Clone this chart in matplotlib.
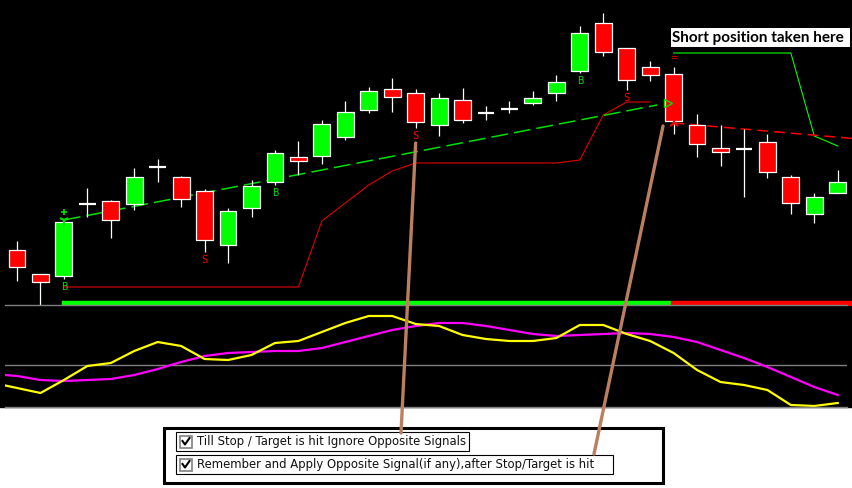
import numpy as np
import matplotlib
matplotlib.use("Agg")
import matplotlib.pyplot as plt
from matplotlib.patches import Rectangle, ConnectionPatch

# Bougies (indice 0..35), niveaux de prix
opens = [55, 31, 29, 101, 104, 101, 138, 128, 114, 60, 97, 123, 148, 149, 168, 195, 216, 212,
         180, 205, 192, 196, 202, 212, 234, 282, 257, 238, 231, 180, 157, 156, 163, 128, 91, 112]
highs = [64, 31, 84, 117, 105, 137, 146, 129, 116, 97, 125, 155, 164, 185, 204, 218, 227, 216,
         212, 217, 199, 204, 214, 230, 279, 292, 257, 244, 238, 191, 180, 176, 171, 130, 112, 135]
lows = [24, 0, 26, 88, 67, 95, 123, 98, 53, 42, 88, 120, 130, 141, 165, 192, 193, 177,
        169, 182, 185, 192, 200, 204, 232, 249, 215, 224, 171, 148, 139, 108, 127, 91, 82, 112]
closes = [38, 23, 83, 101, 85, 128, 138, 106, 65, 94, 119, 152, 144, 181, 193, 214, 208, 183,
          207, 185, 192, 196, 207, 223, 272, 253, 225, 230, 184, 161, 153, 156, 133, 102, 108, 123]

# signaux
buy_idx = [2, 11, 24]
sell_idx = [8, 17, 26]

# stop suiveur de la position longue (indices 2..27)
long_stop_idx = list(range(2, 28))
long_stop = [18] * 11 + [84, 102, 120, 134, 142, 142, 142, 142, 142, 142, 142, 145, 190, 203, 203]
# stop de la position courte (indices 28..35)
short_stop_idx = list(range(28, 36))
short_stop = [252, 252, 252, 252, 252, 252, 169, 159]

# lignes de tendance
long_trend_x = [2, 27.3]
long_trend_y = [85, 200]
short_trend_x = [28, 35.65]
short_trend_y = [182, 166.5]

# barre d'état de la position
pos_start = [2, 28]
pos_end = [28, 36]
pos_colors = ['#00ff00', '#ff0000']

# oscillateur (indices -1..35)
osc_idx = list(range(-1, 36))
osc_slow = [33, 31, 27, 26, 27, 28, 32, 38, 45, 51, 54, 55, 56, 56, 59, 65, 71, 77, 81, 84, 84,
            81, 77, 73, 71, 72, 73, 74, 73, 70, 65, 57, 49, 40, 30, 20, 12]
osc_fast = [24, 19, 14, 27, 41, 44, 56, 65, 61, 48, 47, 52, 64, 66, 75, 84, 91, 91, 83, 81, 72,
            68, 66, 66, 69, 82, 82, 73, 66, 54, 37, 25, 22, 17, 2, 1, 4]
osc_mid = 42

options_labels = ["Till Stop / Target is hit Ignore Opposite Signals",
                  "Remember and Apply Opposite Signal(if any),after Stop/Target is hit"]
note_text = "Short position taken here"

W, H = 853, 488
brown = '#bb7f5f'


def px_rect(x0, y0, x1, y1):
    return [x0 / W, 1 - y1 / H, (x1 - x0) / W, (y1 - y0) / H]


fig = plt.figure(figsize=(W / 100, H / 100), dpi=100, facecolor='white')
fig.add_artist(Rectangle((0, 1 - 407 / H), 1, 407 / H, transform=fig.transFigure,
                         color='black', zorder=-10))

# --- panneau des prix ---
ax = fig.add_axes(px_rect(5, 0, 853, 305))
ax.set_xlim(-0.512, 35.65)
ax.set_ylim(0, 305)
ax.set_axis_off()

x = np.arange(len(opens))
o, h, l, c = (np.array(v, dtype=float) for v in (opens, highs, lows, closes))
up, dn, dj = c > o, c < o, c == o
ax.vlines(x, l, h, color='white', lw=0.9, zorder=2)
ax.bar(x[up], (c - o)[up], bottom=o[up], width=0.72, color='#00ff00', edgecolor='white', lw=0.9, zorder=3)
ax.bar(x[dn], (c - o)[dn], bottom=o[dn], width=0.72, color='#ff0000', edgecolor='white', lw=0.9, zorder=3)
ax.hlines(o[dj], x[dj] - 0.36, x[dj] + 0.36, color='white', lw=1.6, zorder=3)

ax.plot(long_stop_idx, long_stop, color='#e00000', lw=0.8, zorder=1)
ax.plot(short_stop_idx, short_stop, color='#00ff00', lw=0.8, zorder=1)
ax.plot(long_trend_x, long_trend_y, color='#00e000', lw=1.1, dashes=(11, 4), zorder=1)
ax.plot(short_trend_x, short_trend_y, color='#ff0000', lw=1.1, dashes=(7, 4), zorder=1)

ax.plot(long_trend_x[0], long_trend_y[0], marker='1', color='#00e000', ms=7, mew=1.5, zorder=4)
ax.plot(long_trend_x[0], long_trend_y[0] + 8, marker='+', color='#00e000', ms=5, mew=1.2, zorder=4)
ax.plot(short_trend_x[0], short_trend_y[0], marker='2', color='#ff0000', ms=8, mew=1.5, zorder=4)
ax.plot(long_trend_x[1] + 0.45, long_trend_y[1] + 2, marker='>', mfc='none', mec='#00e000', ms=6, mew=1, zorder=4)
ax.annotate('=', (short_stop_idx[0], short_stop[0]), xytext=(0, -5), textcoords='offset pixels',
            ha='center', va='center', color='#ff0000', fontsize=6)

for i in buy_idx:
    ax.annotate('B', (i, lows[i]), xytext=(0, -8), textcoords='offset pixels', ha='center',
                va='center', color='#00dd00', fontsize=7.5, family='DejaVu Sans Mono')
for i in sell_idx:
    ax.annotate('S', (i, lows[i]), xytext=(0, -8), textcoords='offset pixels', ha='center',
                va='center', color='#ff0000', fontsize=7.5, family='DejaVu Sans Mono')

for s, e, col in zip(pos_start, pos_end, pos_colors):
    ax.broken_barh([(s - 0.1, e - s)], (0, 4), color=col, zorder=5)

# --- oscillateur ---
ax2 = fig.add_axes(px_rect(5, 305, 847, 407))
ax2.set_facecolor('black')
ax2.set_xlim(-0.512, 35.394)
ax2.set_ylim(0, 102)
ax2.set_xticks([])
ax2.set_yticks([])
for side in ('left', 'right'):
    ax2.spines[side].set_visible(False)
for side in ('top', 'bottom'):
    ax2.spines[side].set_color('#808080')
    ax2.spines[side].set_linewidth(1.0)
ax2.axhline(osc_mid, color='#808080', lw=1.0)
ax2.plot(osc_idx, osc_slow, color='#ff00ff', lw=1.6)
ax2.plot(osc_idx, osc_fast, color='#ffff00', lw=1.6)

# --- couche d'annotations (pixels) ---
ui = fig.add_axes([0, 0, 1, 1], zorder=5)
ui.set_xlim(0, W)
ui.set_ylim(H, 0)
ui.set_axis_off()
ui.patch.set_alpha(0)

ui.add_patch(Rectangle((164, 428), 499, 55, facecolor='white', edgecolor='black', lw=2.2))
rows = [(432, 293), (455, 437)]
for (y0, w), label in zip(rows, options_labels):
    ui.add_patch(Rectangle((176, y0), w, 19, facecolor='white', edgecolor='black', lw=0.8))
    ui.add_patch(Rectangle((180, y0 + 3.5), 12, 12, facecolor='white', edgecolor='#808080', lw=1.2))
    ui.plot([182.5, 185, 189.5], [y0 + 9, y0 + 12.5, y0 + 6], color='black', lw=1.5)
    ui.text(197, y0 + 9.5, label, fontsize=8.4, color='#111111', va='center', ha='left',
            family='DejaVu Sans')

ui.add_patch(Rectangle((671, 28), 179, 19, facecolor='white', edgecolor='none'))
ui.text(672, 38, note_text, fontsize=11, fontweight='bold', color='black', va='center',
        ha='left', family='Lato')

targets = [((17, 162), (401, 433)), ((27.55, 179), (594, 454))]
for xyA, xyB in targets:
    con = ConnectionPatch(xyA=xyA, coordsA='data', axesA=ax, xyB=xyB, coordsB='data', axesB=ui,
                          color=brown, lw=2.4, zorder=10)
    fig.add_artist(con)

fig.savefig('out.png', dpi=100)
